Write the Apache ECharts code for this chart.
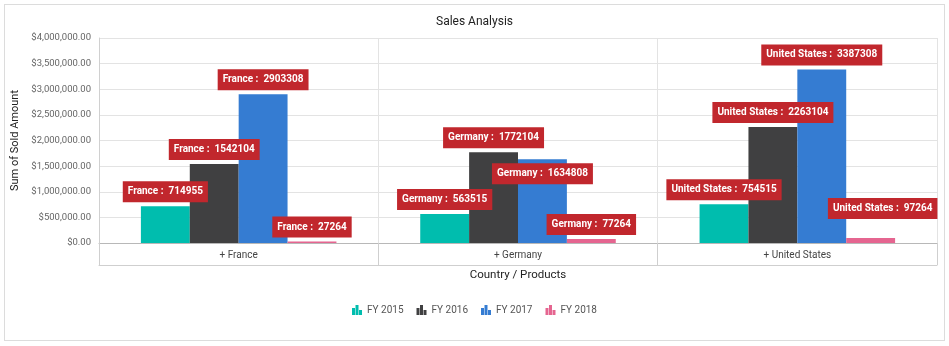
<!DOCTYPE html>
<html>
<head>
<meta charset="utf-8">
<script src="https://cdn.jsdelivr.net/npm/echarts@6/dist/echarts.min.js"></script>
<style>
html,body{margin:0;padding:0;background:#fff;}
#frame{position:absolute;left:4px;top:4px;width:939px;height:335px;border:1px solid #dcdcdc;}
#chart{position:absolute;left:0;top:0;width:949px;height:346px;}
</style>
</head>
<body>
<div id="frame"></div>
<div id="chart"></div>
<script>
const categories = ['France', 'Germany', 'United States'];
const seriesNames = ['FY 2015', 'FY 2016', 'FY 2017', 'FY 2018'];
const fy2015 = [714955, 563515, 754515];
const fy2016 = [1542104, 1772104, 2263104];
const fy2017 = [2903308, 1634808, 3387308];
const fy2018 = [27264, 77264, 97264];
const yTicks = [0, 500000, 1000000, 1500000, 2000000, 2500000, 3000000, 3500000, 4000000];

const colors = ['#00bdae', '#404041', '#357cd2', '#e56590'];
const values = [fy2015, fy2016, fy2017, fy2018];

// label placement tweaks (smart-label collision avoidance in the original)
const labelTweaks = {
  '2-1': { position: 'insideTop', distance: 4 },
  '3-2': { offset: [12, -15] }
};

const chart = echarts.init(document.getElementById('chart'));
const fmtMoney = v => '$' + v.toLocaleString('en-US', {minimumFractionDigits: 2, maximumFractionDigits: 2});

const series = values.map((arr, si) => ({
  name: seriesNames[si],
  type: 'bar',
  xAxisIndex: 0,
  barGap: '0%',
  barCategoryGap: '30%',
  itemStyle: { color: colors[si] },
  data: arr.map((v, ci) => {
    const t = labelTweaks[si + '-' + ci];
    const d = { value: v };
    if (t) d.label = t;
    return d;
  }),
  label: {
    show: true,
    position: 'top',
    distance: 4,
    formatter: p => categories[p.dataIndex] + ' :  ' + p.value,
    backgroundColor: '#c1272d',
    color: '#fff',
    fontFamily: 'Roboto',
    fontWeight: 'bold',
    fontSize: 10,
    lineHeight: 13,
    padding: [4, 5]
  },
  emphasis: { disabled: true }
}));

chart.setOption({
  animation: false,
  textStyle: { fontFamily: 'Roboto' },
  title: {
    text: 'Sales Analysis',
    left: 'center',
    top: 11,
    textStyle: { fontSize: 12, fontWeight: 'normal', color: '#222' }
  },
  legend: {
    bottom: 26,
    left: 'center',
    itemWidth: 10,
    itemHeight: 10,
    itemGap: 13,
    icon: 'path://M0,3h3v7h-3z M3.5,0h3v10h-3z M7,5h3v5h-3z',
    textStyle: { fontSize: 10, color: '#555' },
    data: seriesNames
  },
  grid: { left: 99, right: 12, top: 38, bottom: 103, containLabel: false, outerBoundsMode: 'none' },
  xAxis: [{
    type: 'category',
    data: categories,
    name: 'Country / Products',
    nameLocation: 'middle',
    nameGap: 26,
    nameTextStyle: { fontSize: 11.5, color: '#222' },
    axisLine: { show: true, lineStyle: { color: '#b8b8b8' } },
    axisTick: { show: true, length: 22, lineStyle: { color: '#cfcfcf' } },
    axisLabel: { formatter: v => '+ ' + v, fontSize: 10, color: '#444', margin: 7 },
    splitLine: { show: true, lineStyle: { color: '#e3e3e3' } }
  }, {
    type: 'category',
    data: categories,
    position: 'bottom',
    offset: 22,
    axisLine: { show: true, lineStyle: { color: '#cfcfcf' } },
    axisTick: { show: false },
    axisLabel: { show: false },
    splitLine: { show: false }
  }],
  yAxis: {
    type: 'value',
    min: yTicks[0],
    max: yTicks[yTicks.length - 1],
    interval: yTicks[1] - yTicks[0],
    name: 'Sum of Sold Amount',
    nameLocation: 'middle',
    nameGap: 72,
    nameTextStyle: { fontSize: 11, color: '#222' },
    axisLine: { show: true, lineStyle: { color: '#d0d0d0' } },
    axisTick: { show: false },
    axisLabel: { formatter: fmtMoney, fontSize: 9.5, color: '#666', margin: 8 },
    splitLine: { show: true, lineStyle: { color: '#e3e3e3' } }
  },
  series: series
});
</script>
</body>
</html>
